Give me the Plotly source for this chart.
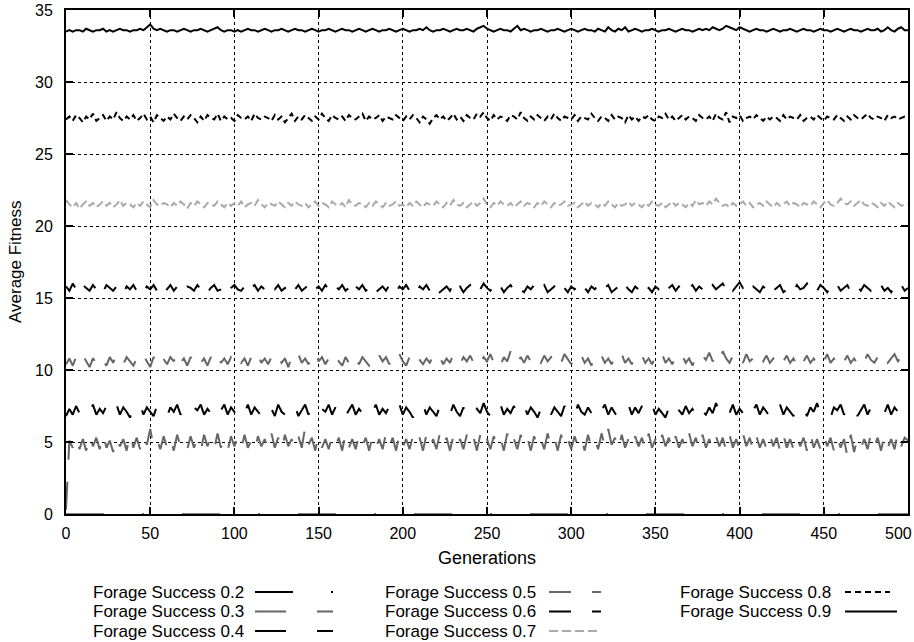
import plotly.graph_objects as go

# ---------------- data ----------------
generations = list(range(0, 501, 2))
generations_02 = [0, 50, 100, 150, 200, 250, 300, 350, 400, 450, 500]

fs_02 = [0.0, 0.0, 0.0, 0.0, 0.0, 0.0, 0.0, 0.0, 0.0, 0.0, 0.0]

fs_03 = [0.3, 5.1, 4.6, 5.4, 4.5, 5.2, 4.4, 5.5, 4.7, 5.3,
         4.5, 5.6, 4.6, 5.1, 4.3, 5.4, 4.7, 5.2, 4.4, 5.6,
         4.6, 5.3, 4.5, 5.5, 4.8, 5.9, 4.7, 5.2, 4.5, 5.4,
         4.6, 5.3, 4.4, 5.5, 4.7, 5.1, 4.5, 5.4, 4.6, 5.2,
         4.4, 5.5, 4.7, 5.3, 4.5, 5.6, 4.6, 5.2, 4.4, 5.4,
         4.7, 5.3, 4.5, 5.5, 4.6, 5.1, 4.4, 5.4, 4.7, 5.2,
         4.5, 5.6, 4.6, 5.3, 4.4, 5.5, 4.7, 5.2, 4.5, 5.4,
         4.6, 6.0, 4.8, 5.3, 4.4, 5.5, 4.6, 5.2, 4.5, 5.4,
         4.7, 5.3, 4.4, 5.6, 4.6, 5.2, 4.5, 5.5, 4.7, 5.3,
         4.4, 5.4, 4.6, 5.2, 4.5, 5.6, 4.7, 5.3, 4.4, 5.5,
         4.6, 5.2, 4.5, 5.4, 4.7, 5.3, 4.4, 5.5, 4.6, 5.2,
         4.5, 5.6, 4.7, 5.3, 4.4, 5.4, 4.6, 5.2, 4.5, 5.5,
         4.7, 5.3, 4.4, 5.5, 4.6, 5.2, 4.5, 5.4, 4.7, 5.3,
         4.4, 5.6, 4.6, 5.2, 4.5, 5.5, 4.7, 5.3, 4.4, 5.4,
         4.6, 5.2, 4.5, 5.6, 4.7, 5.3, 4.4, 5.5, 4.6, 5.2,
         4.5, 5.4, 4.7, 5.3, 4.4, 5.5, 4.6, 5.2, 4.5, 5.6,
         4.7, 5.9, 4.8, 5.3, 4.4, 5.5, 4.6, 5.2, 4.5, 5.4,
         4.7, 5.3, 4.4, 5.6, 4.6, 5.2, 4.5, 5.5, 4.7, 5.3,
         4.4, 5.4, 4.6, 5.2, 4.5, 5.6, 4.7, 5.3, 4.4, 5.5,
         4.6, 5.2, 4.5, 5.4, 4.7, 5.3, 4.4, 5.5, 4.6, 5.2,
         4.5, 5.6, 4.7, 5.3, 4.4, 5.4, 4.6, 5.2, 4.5, 5.5,
         4.7, 5.3, 4.4, 5.5, 4.6, 5.2, 4.5, 5.4, 4.7, 5.3,
         4.4, 5.6, 4.6, 5.2, 4.5, 5.5, 4.7, 5.3, 4.4, 5.4,
         4.6, 5.2, 4.0, 5.5, 4.3, 5.3, 4.6, 5.2, 4.5, 5.6,
         4.7, 5.3, 4.4, 5.5, 4.6, 5.2, 4.5, 5.7, 4.7, 5.3,
         5.1]

fs_04 = [6.8, 7.3, 6.9, 7.5, 7.0, 6.7, 7.4, 7.1, 7.6, 6.9,
         7.3, 7.0, 7.5, 6.8, 7.2, 7.6, 6.9, 7.4, 7.1, 6.7,
         7.3, 7.0, 7.6, 6.9, 7.4, 7.1, 6.8, 7.5, 7.0, 7.3,
         6.8, 7.4, 7.1, 7.6, 6.9, 7.3, 7.0, 6.7, 7.4, 7.2,
         7.6, 6.9, 7.3, 7.0, 7.5, 6.8, 7.2, 7.6, 6.9, 7.4,
         7.1, 6.6, 7.3, 7.0, 7.6, 6.9, 7.4, 7.1, 6.8, 7.5,
         7.0, 7.3, 6.8, 7.6, 7.1, 6.9, 7.4, 7.0, 7.5, 6.8,
         7.2, 7.6, 6.9, 7.4, 7.0, 6.7, 7.3, 7.1, 7.6, 6.9,
         7.4, 7.0, 7.5, 6.8, 7.2, 7.6, 6.9, 7.3, 7.0, 6.7,
         7.4, 7.1, 7.6, 6.9, 7.3, 7.0, 7.5, 6.8, 7.2, 7.6,
         6.9, 7.4, 7.1, 6.7, 7.3, 7.0, 7.6, 6.9, 7.4, 7.1,
         6.8, 7.5, 7.0, 7.3, 6.9, 7.6, 7.1, 6.8, 7.4, 7.0,
         7.5, 6.9, 7.3, 7.0, 7.7, 7.1, 6.8, 7.4, 7.0, 7.6,
         6.9, 7.3, 7.0, 7.5, 6.8, 7.2, 7.6, 6.9, 7.4, 7.1,
         6.7, 7.3, 7.0, 7.6, 6.9, 7.4, 7.1, 6.8, 7.5, 7.0,
         7.3, 6.8, 7.6, 7.1, 6.9, 7.4, 7.0, 7.5, 6.8, 7.2,
         7.6, 6.9, 7.4, 7.0, 6.7, 7.3, 7.1, 7.6, 6.9, 7.4,
         7.0, 7.5, 6.8, 7.2, 7.6, 6.9, 7.3, 7.0, 6.7, 7.4,
         7.1, 7.8, 7.2, 6.9, 7.5, 7.0, 7.3, 6.8, 7.6, 7.1,
         6.9, 7.4, 7.0, 7.7, 7.1, 6.8, 7.4, 7.0, 7.6, 6.9,
         7.3, 7.0, 7.5, 6.8, 7.2, 7.6, 6.9, 7.4, 7.1, 6.7,
         7.3, 7.0, 7.6, 6.9, 7.4, 7.1, 6.8, 7.5, 7.0, 7.3,
         6.8, 7.4, 7.1, 7.7, 6.9, 7.3, 7.0, 6.7, 7.4, 7.2,
         7.6, 6.9, 7.3, 7.0, 7.5, 6.8, 7.2, 7.6, 6.9, 7.4,
         7.1, 6.8, 7.3, 7.0, 7.6, 6.9, 7.4, 7.1, 7.7, 7.0,
         7.4]

fs_05 = [10.4, 10.8, 10.3, 10.9, 10.5, 11.0, 10.6, 10.2, 10.8, 10.5,
         11.0, 10.6, 10.3, 10.9, 10.5, 11.1, 10.7, 10.4, 10.9, 10.6,
         10.3, 10.8, 10.5, 11.0, 10.6, 10.2, 10.9, 10.5, 11.1, 10.7,
         10.4, 10.9, 10.6, 11.2, 10.5, 10.8, 10.3, 10.9, 10.6, 11.0,
         10.5, 10.8, 10.3, 10.9, 10.6, 11.1, 10.5, 10.8, 10.4, 10.9,
         10.6, 11.0, 10.5, 10.8, 10.3, 10.9, 10.6, 11.1, 10.5, 10.8,
         10.4, 10.9, 10.6, 11.0, 10.5, 10.8, 10.2, 10.9, 10.6, 11.1,
         10.5, 10.8, 10.4, 10.9, 11.3, 10.6, 10.9, 10.4, 10.8, 10.5,
         11.0, 10.6, 10.3, 10.9, 10.5, 11.1, 10.7, 10.4, 10.9, 10.6,
         10.3, 10.8, 10.5, 11.0, 10.6, 10.9, 10.4, 10.8, 10.5, 11.1,
         10.6, 10.3, 10.9, 10.5, 11.0, 10.7, 10.4, 10.8, 10.5, 11.0,
         10.6, 10.9, 10.4, 10.8, 10.5, 11.1, 10.7, 10.4, 10.9, 10.6,
         11.0, 10.5, 10.8, 10.4, 10.9, 10.6, 11.1, 10.5, 10.8, 10.3,
         10.9, 10.6, 11.3, 10.7, 10.4, 10.9, 10.5, 11.0, 10.6, 10.3,
         10.8, 10.5, 11.0, 10.6, 10.9, 10.4, 10.8, 10.5, 11.1, 10.7,
         10.4, 10.9, 10.6, 11.0, 10.5, 10.8, 10.3, 10.9, 10.6, 11.0,
         10.5, 10.8, 10.4, 10.9, 10.6, 11.1, 10.5, 10.8, 10.4, 10.9,
         10.6, 11.0, 10.5, 10.8, 10.4, 10.9, 10.6, 11.1, 10.5, 10.8,
         10.4, 10.9, 10.6, 11.0, 10.5, 10.8, 10.3, 10.9, 10.6, 11.0,
         10.7, 11.2, 10.6, 10.9, 10.5, 11.3, 10.8, 10.5, 11.0, 10.6,
         10.9, 10.5, 11.1, 10.6, 10.8, 10.4, 10.9, 10.6, 11.0, 10.5,
         10.8, 10.4, 10.9, 10.6, 11.0, 10.5, 10.8, 10.3, 10.9, 10.6,
         11.0, 10.5, 10.8, 10.4, 10.9, 10.6, 11.1, 10.5, 10.8, 10.4,
         10.9, 10.6, 11.0, 10.5, 10.8, 10.4, 10.9, 10.6, 11.1, 10.7,
         10.5, 10.9, 10.6, 11.0, 10.5, 10.8, 11.1, 10.6, 10.9, 10.7,
         10.8]

fs_06 = [15.8, 15.5, 16.0, 15.6, 15.4, 15.9, 15.7, 15.5, 15.9, 15.6,
         15.8, 15.4, 15.9, 15.7, 15.5, 15.8, 15.6, 15.3, 15.8, 15.6,
         15.9, 15.5, 15.7, 15.4, 15.8, 15.6, 15.9, 15.5, 15.7, 15.3,
         15.6, 15.9, 15.5, 15.8, 15.6, 15.4, 15.8, 15.7, 15.5, 15.9,
         15.6, 15.8, 15.4, 15.7, 15.9, 15.5, 15.6, 15.8, 15.4, 15.7,
         15.9, 15.6, 15.5, 15.8, 15.4, 15.7, 15.9, 15.5, 15.8, 15.6,
         15.4, 15.8, 15.6, 15.9, 15.5, 15.7, 15.4, 15.8, 15.6, 15.9,
         15.5, 15.7, 15.9, 15.4, 15.6, 15.8, 15.5, 15.9, 15.6, 15.4,
         15.8, 15.6, 15.9, 15.5, 15.7, 15.3, 15.8, 15.6, 15.9, 15.5,
         15.7, 15.9, 15.4, 15.6, 15.8, 15.5, 15.9, 15.6, 15.4, 15.8,
         15.6, 15.9, 15.5, 15.7, 15.4, 15.8, 15.6, 15.9, 15.5, 15.7,
         15.9, 15.4, 15.6, 15.8, 15.5, 16.0, 15.6, 15.8, 15.4, 15.7,
         15.9, 15.5, 15.8, 15.6, 16.0, 15.7, 15.5, 15.9, 15.6, 15.8,
         15.4, 15.7, 15.9, 15.5, 15.8, 15.6, 15.4, 15.8, 15.6, 15.9,
         15.5, 15.7, 15.9, 15.4, 15.6, 15.8, 15.5, 15.9, 15.7, 15.4,
         15.8, 15.6, 15.9, 15.5, 15.7, 15.4, 15.8, 15.6, 15.9, 15.5,
         15.7, 15.9, 15.4, 15.6, 15.8, 15.5, 15.9, 15.6, 15.4, 15.8,
         15.6, 15.9, 15.5, 15.7, 15.4, 15.8, 15.6, 15.9, 15.5, 15.7,
         15.9, 15.5, 15.8, 15.6, 15.4, 15.7, 15.9, 15.5, 15.8, 15.6,
         15.8, 15.5, 15.9, 15.6, 15.8, 16.0, 15.6, 15.9, 15.5, 15.8,
         16.1, 15.7, 15.9, 15.5, 15.8, 15.6, 15.4, 15.8, 15.6, 15.9,
         15.5, 15.7, 15.9, 15.4, 15.6, 15.8, 15.5, 15.9, 15.6, 15.7,
         16.0, 15.6, 15.8, 15.5, 15.9, 15.7, 15.4, 15.8, 15.6, 15.9,
         15.5, 15.7, 15.9, 15.4, 15.6, 15.8, 15.5, 15.9, 15.7, 15.5,
         15.8, 15.6, 15.9, 15.5, 15.7, 15.4, 15.8, 15.6, 15.9, 15.5,
         15.7]

fs_07 = [21.8, 21.5, 21.3, 21.6, 21.2, 21.5, 21.7, 21.4, 21.6, 21.3,
         21.5, 21.7, 21.4, 21.6, 21.3, 21.5, 21.8, 21.4, 21.6, 21.5,
         21.3, 21.6, 21.4, 21.7, 21.5, 21.3, 21.8, 21.5, 21.4, 21.6,
         21.5, 21.3, 21.6, 21.4, 21.7, 21.5, 21.2, 21.6, 21.4, 21.7,
         21.5, 21.3, 21.6, 21.5, 21.4, 21.7, 21.5, 21.3, 21.6, 21.4,
         21.6, 21.4, 21.7, 21.3, 21.5, 21.6, 21.4, 21.8, 21.5, 21.3,
         21.6, 21.5, 21.4, 21.7, 21.5, 21.3, 21.6, 21.4, 21.7, 21.5,
         21.4, 21.6, 21.3, 21.5, 21.7, 21.4, 21.6, 21.5, 21.3, 21.7,
         21.5, 21.4, 21.6, 21.3, 21.8, 21.5, 21.4, 21.6, 21.5, 21.3,
         21.6, 21.4, 21.7, 21.5, 21.3, 21.6, 21.4, 21.5, 21.7, 21.4,
         21.5, 21.3, 21.6, 21.4, 21.7, 21.5, 21.3, 21.6, 21.5, 21.4,
         21.7, 21.5, 21.3, 21.6, 21.4, 21.8, 21.5, 21.4, 21.6, 21.3,
         21.5, 21.7, 21.4, 21.6, 21.9, 21.5, 21.3, 21.6, 21.4, 21.7,
         21.5, 21.4, 21.6, 21.3, 21.5, 21.7, 21.4, 21.6, 21.5, 21.3,
         21.6, 21.4, 21.7, 21.5, 21.3, 21.6, 21.4, 21.5, 21.7, 21.4,
         21.5, 21.6, 21.3, 21.5, 21.7, 21.4, 21.6, 21.5, 21.3, 21.6,
         21.4, 21.7, 21.5, 21.3, 21.6, 21.4, 21.5, 21.7, 21.4, 21.6,
         21.5, 21.3, 21.6, 21.4, 21.7, 21.5, 21.4, 21.6, 21.3, 21.5,
         21.7, 21.4, 21.6, 21.5, 21.3, 21.6, 21.4, 21.8, 21.5, 21.6,
         21.4, 21.7, 21.5, 21.9, 21.6, 21.4, 21.5, 21.3, 21.6, 21.4,
         21.5, 21.7, 21.4, 21.6, 21.3, 21.5, 21.6, 21.4, 21.7, 21.5,
         21.3, 21.6, 21.4, 21.5, 21.7, 21.4, 21.6, 21.5, 21.3, 21.6,
         21.5, 21.4, 21.7, 21.5, 21.3, 21.6, 21.8, 21.5, 21.4, 21.6,
         21.9, 21.6, 21.5, 21.7, 21.4, 21.6, 21.8, 21.5, 21.4, 21.6,
         21.5, 21.3, 21.6, 21.4, 21.7, 21.5, 21.3, 21.6, 21.4, 21.5,
         21.5]

fs_08 = [27.4, 27.6, 27.3, 27.7, 27.5, 27.2, 27.6, 27.4, 27.8, 27.3,
         27.5, 27.7, 27.3, 27.6, 27.4, 27.9, 27.5, 27.3, 27.6, 27.4,
         27.7, 27.3, 27.5, 27.8, 27.4, 27.6, 27.2, 27.7, 27.5, 27.3,
         27.6, 27.4, 27.8, 27.5, 27.3, 27.6, 27.4, 27.7, 27.5, 27.2,
         27.6, 27.3, 27.7, 27.5, 27.4, 27.8, 27.3, 27.6, 27.4, 27.5,
         27.3, 27.7, 27.5, 27.4, 27.6, 27.3, 27.8, 27.5, 27.4, 27.6,
         27.5, 27.3, 27.7, 27.4, 27.6, 27.2, 27.5, 27.8, 27.3, 27.6,
         27.4, 27.7, 27.5, 27.3, 27.6, 27.4, 27.8, 27.5, 27.3, 27.7,
         27.5, 27.4, 27.6, 27.3, 27.7, 27.5, 27.4, 27.6, 27.8, 27.3,
         27.6, 27.4, 27.5, 27.7, 27.3, 27.6, 27.5, 27.4, 27.7, 27.5,
         27.3, 27.6, 27.4, 27.7, 27.5, 27.2, 27.6, 27.4, 27.1, 27.5,
         27.7, 27.4, 27.6, 27.3, 27.5, 27.8, 27.4, 27.6, 27.3, 27.7,
         27.5, 27.4, 27.8, 27.6, 27.9, 27.5, 27.3, 27.7, 27.4, 27.6,
         27.5, 27.3, 27.7, 27.6, 27.4, 27.9, 27.5, 27.3, 27.6, 27.4,
         27.7, 27.5, 27.3, 27.6, 27.4, 27.8, 27.5, 27.3, 27.6, 27.5,
         27.4, 27.7, 27.3, 27.6, 27.5, 27.4, 27.8, 27.5, 27.3, 27.6,
         27.5, 27.3, 27.7, 27.4, 27.6, 27.5, 27.2, 27.7, 27.4, 27.6,
         27.3, 27.6, 27.5, 27.7, 27.4, 27.3, 27.6, 27.5, 27.8, 27.4,
         27.6, 27.3, 27.5, 27.7, 27.4, 27.6, 27.5, 27.3, 27.7, 27.5,
         27.4, 27.6, 27.3, 27.8, 27.5, 27.4, 27.9, 27.2, 27.6, 27.5,
         27.7, 27.3, 27.5, 27.6, 27.4, 27.7, 27.5, 27.3, 27.6, 27.4,
         27.6, 27.5, 27.3, 27.7, 27.4, 27.6, 27.5, 27.4, 27.7, 27.3,
         27.5, 27.6, 27.4, 27.7, 27.5, 27.3, 27.6, 27.5, 27.4, 27.7,
         27.5, 27.3, 27.6, 27.4, 27.7, 27.5, 27.4, 27.6, 27.8, 27.5,
         27.4, 27.6, 27.5, 27.3, 27.7, 27.5, 27.6, 27.4, 27.5, 27.6,
         27.5]

fs_09 = [33.5, 33.6, 33.5, 33.6, 33.6, 33.5, 33.7, 33.6, 33.5, 33.6,
         33.6, 33.7, 33.5, 33.6, 33.5, 33.6, 33.7, 33.6, 33.6, 33.5,
         33.6, 33.6, 33.7, 33.6, 33.8, 34.0, 33.7, 33.6, 33.7, 33.6,
         33.5, 33.6, 33.6, 33.5, 33.6, 33.7, 33.6, 33.5, 33.6, 33.6,
         33.7, 33.6, 33.5, 33.6, 33.7, 33.8, 33.6, 33.5, 33.6, 33.6,
         33.5, 33.6, 33.5, 33.6, 33.7, 33.6, 33.6, 33.5, 33.6, 33.7,
         33.6, 33.5, 33.6, 33.6, 33.7, 33.6, 33.5, 33.6, 33.7, 33.6,
         33.6, 33.5, 33.6, 33.7, 33.6, 33.5, 33.6, 33.6, 33.7, 33.6,
         33.5, 33.6, 33.7, 33.6, 33.6, 33.5, 33.6, 33.7, 33.6, 33.5,
         33.6, 33.7, 33.6, 33.5, 33.6, 33.6, 33.7, 33.6, 33.5, 33.6,
         33.7, 33.6, 33.5, 33.6, 33.6, 33.7, 33.6, 33.8, 33.6, 33.5,
         33.6, 33.6, 33.7, 33.6, 33.5, 33.6, 33.7, 33.6, 33.6, 33.7,
         33.6, 33.5, 33.7, 33.8, 33.9, 33.7, 33.6, 33.5, 33.6, 33.7,
         33.6, 33.6, 33.5, 33.7, 33.9, 33.6, 33.7, 33.6, 33.5, 33.6,
         33.6, 33.7, 33.6, 33.5, 33.6, 33.6, 33.7, 33.6, 33.5, 33.6,
         33.7, 33.6, 33.5, 33.6, 33.7, 33.6, 33.6, 33.5, 33.7, 33.6,
         33.5, 33.8, 33.6, 33.5, 33.7, 33.6, 33.8, 33.5, 33.6, 33.7,
         33.6, 33.5, 33.6, 33.6, 33.7, 33.6, 33.5, 33.6, 33.6, 33.7,
         33.6, 33.5, 33.6, 33.7, 33.6, 33.6, 33.5, 33.6, 33.7, 33.6,
         33.7, 33.6, 33.8, 33.7, 33.6, 33.7, 33.9, 33.8, 33.7, 33.6,
         33.8, 33.7, 33.6, 33.5, 33.6, 33.7, 33.6, 33.6, 33.5, 33.6,
         33.7, 33.6, 33.5, 33.6, 33.6, 33.7, 33.6, 33.5, 33.6, 33.7,
         33.6, 33.6, 33.5, 33.6, 33.7, 33.6, 33.6, 33.5, 33.6, 33.7,
         33.6, 33.5, 33.6, 33.7, 33.6, 33.6, 33.5, 33.6, 33.7, 33.6,
         33.6, 33.7, 33.5, 33.6, 33.8, 33.6, 33.5, 33.7, 33.8, 33.6,
         33.6]

series_names = ["Forage Success 0.2", "Forage Success 0.3", "Forage Success 0.4",
                "Forage Success 0.5", "Forage Success 0.6", "Forage Success 0.7",
                "Forage Success 0.8", "Forage Success 0.9"]
series_x = [generations_02] + [generations] * 7
series_values = [fs_02, fs_03, fs_04, fs_05, fs_06, fs_07, fs_08, fs_09]

x_ticks = [0, 50, 100, 150, 200, 250, 300, 350, 400, 450, 500]
y_ticks = [0, 5, 10, 15, 20, 25, 30, 35]

# ---------------- styles ----------------
colors = ["#000000", "#666666", "#000000", "#666666", "#000000", "#aaaaaa", "#000000", "#000000"]
widths = [1, 2, 2, 2, 2, 2, 2, 2]
plot_dash = ["38px,38px,2px,38px", "28px,22px", "31px,28px", "22px,20px", "18px,16px",
             "8px,4px", "6px,4px", "solid"]
legend_dash = ["38px,38px,2px,20px", "31px,31px", "31px,31px", "22px,21px", "22px,21px",
               "9px,4px", "6px,4px", "solid"]

FONT = "Liberation Sans, Arial, Helvetica, sans-serif"

fig = go.Figure()
for name, xs, vals, c, w, d in zip(series_names, series_x, series_values, colors, widths, plot_dash):
    fig.add_trace(go.Scatter(x=xs, y=vals, mode="lines", name=name,
                             line=dict(color=c, width=w, dash=d), showlegend=False))

W, H = 914, 642
L, R, T, B = 66, 6, 10, 128
PW, PH = W - L - R, H - T - B

def px(x):
    return (x - L) / PW

def py(y):
    return (H - B - y) / PH

# the last x tick label sits against the right edge, so it is nudged inward
x_tick_text = [str(v) for v in x_ticks[:-1]] + [""]

annotations = [
    dict(text=str(x_ticks[-1]), x=x_ticks[-1], y=0, xref="x", yref="y",
         showarrow=False, xanchor="right", yanchor="top", xshift=6, yshift=-9,
         font=dict(size=16, family=FONT, color="black")),
    dict(text="Generations", x=0.5, y=py(558), xref="paper", yref="paper",
         showarrow=False, font=dict(size=18, family=FONT, color="black"),
         xanchor="center", yanchor="middle"),
    dict(text="Average Fitness", x=px(15), y=0.5, xref="paper", yref="paper",
         showarrow=False, textangle=-90, font=dict(size=17, family=FONT, color="black"),
         xanchor="center", yanchor="middle"),
]
shapes = []

# legend: columns of 3,3,2 entries, text right-aligned, line sample to the right
col_text_right = [245, 537, 832]
col_sample = [(255, 333), (549, 601), (845, 897)]
row_y = [592, 611.5, 631]
sample_len_override = {6: (845, 890)}
for i, name in enumerate(series_names):
    col, row = divmod(i, 3)
    yy = row_y[row]
    annotations.append(dict(text=name, x=px(col_text_right[col]), y=py(yy),
                            xref="paper", yref="paper", showarrow=False,
                            xanchor="right", yanchor="middle", borderpad=0,
                            font=dict(size=17, family=FONT, color="black")))
    x0, x1 = sample_len_override.get(i, col_sample[col])
    shapes.append(dict(type="line", xref="paper", yref="paper",
                       x0=px(x0), x1=px(x1), y0=py(yy), y1=py(yy),
                       line=dict(color=colors[i], width=2, dash=legend_dash[i])))

axis_common = dict(showline=True, linewidth=2, linecolor="black", mirror="ticks",
                   ticks="inside", ticklen=7, tickwidth=1.5, tickcolor="black",
                   showgrid=True, gridcolor="black", gridwidth=1, griddash="3px,3px",
                   zeroline=False, automargin=False,
                   tickfont=dict(size=16, family=FONT, color="black"))

fig.update_layout(
    width=W, height=H,
    margin=dict(l=L, r=R, t=T, b=B, pad=0, autoexpand=False),
    paper_bgcolor="white", plot_bgcolor="white",
    xaxis=dict(range=[0, 500], tickvals=x_ticks, ticktext=x_tick_text,
               ticklabelstandoff=4, **axis_common),
    yaxis=dict(range=[0, 35], tickvals=y_ticks, ticklabelstandoff=8, **axis_common),
    annotations=annotations, shapes=shapes, showlegend=False,
)

fig.write_html("out.html")
